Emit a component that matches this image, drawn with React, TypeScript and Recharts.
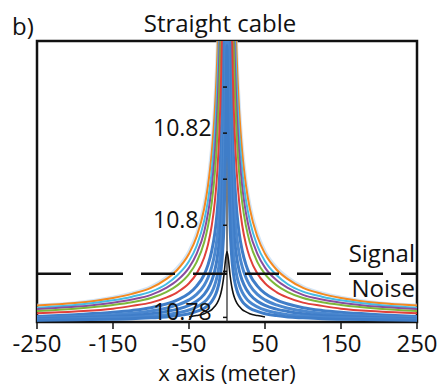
import React from 'react';
import { LineChart, Line, XAxis, YAxis, ReferenceLine, ReferenceArea } from 'recharts';

// distance from the cable (m); profiles are symmetric about x = 0
const offsets = [0, 2, 4, 6, 8, 10, 13, 16, 20, 25, 30, 40, 50, 65, 80, 100, 125, 150, 200, 250];

const haze = [11.2923, 11.087, 10.9592, 10.9035, 10.8736, 10.8551, 10.8378, 10.8269, 10.8174, 10.8098, 10.8046, 10.7983, 10.7944, 10.7909, 10.7887, 10.7867, 10.7853, 10.7844, 10.7832, 10.7827];
const orange = [11.2723, 11.075, 10.9522, 10.8987, 10.8699, 10.8522, 10.8355, 10.825, 10.8159, 10.8086, 10.8036, 10.7975, 10.7938, 10.7904, 10.7883, 10.7864, 10.7851, 10.7842, 10.7831, 10.7826];
const cyan = [11.219, 11.043, 10.9335, 10.8857, 10.8601, 10.8443, 10.8294, 10.8201, 10.8119, 10.8054, 10.801, 10.7955, 10.7922, 10.7892, 10.7872, 10.7856, 10.7845, 10.7837, 10.7827, 10.7821];
const purple = [11.1723, 11.015, 10.9171, 10.8744, 10.8515, 10.8374, 10.8241, 10.8157, 10.8084, 10.8026, 10.7986, 10.7938, 10.7908, 10.7881, 10.7864, 10.7849, 10.7839, 10.7832, 10.7823, 10.7818];
const green = [11.1257, 10.987, 10.9007, 10.8631, 10.8429, 10.8304, 10.8187, 10.8113, 10.8049, 10.7998, 10.7963, 10.792, 10.7894, 10.787, 10.7855, 10.7842, 10.7833, 10.7827, 10.7819, 10.7814];
const red = [11.059, 10.947, 10.8773, 10.8469, 10.8306, 10.8205, 10.8111, 10.8051, 10.8, 10.7958, 10.793, 10.7895, 10.7874, 10.7855, 10.7843, 10.7832, 10.7825, 10.7819, 10.7813, 10.7809];
const blue1 = [10.9857, 10.903, 10.8516, 10.8291, 10.8171, 10.8097, 10.8027, 10.7983, 10.7945, 10.7914, 10.7893, 10.7868, 10.7852, 10.7838, 10.7829, 10.7821, 10.7815, 10.7811, 10.7806, 10.7802];
const blue2 = [10.939, 10.875, 10.8352, 10.8178, 10.8085, 10.8027, 10.7973, 10.7939, 10.791, 10.7886, 10.787, 10.785, 10.7838, 10.7827, 10.782, 10.7814, 10.7809, 10.7806, 10.7802, 10.78];
const blue3 = [10.899, 10.851, 10.8211, 10.8081, 10.8011, 10.7968, 10.7928, 10.7902, 10.788, 10.7862, 10.785, 10.7835, 10.7826, 10.7818, 10.7813, 10.7808, 10.7804, 10.7802, 10.7799, 10.7797];
const blue4 = [10.8657, 10.831, 10.8094, 10.8, 10.795, 10.7919, 10.7889, 10.7871, 10.7855, 10.7842, 10.7833, 10.7823, 10.7816, 10.781, 10.7806, 10.7803, 10.78, 10.7799, 10.7797, 10.7795];
const blue5 = [10.839, 10.815, 10.8001, 10.7936, 10.7901, 10.7879, 10.7859, 10.7846, 10.7835, 10.7826, 10.782, 10.7813, 10.7808, 10.7804, 10.7801, 10.7799, 10.7797, 10.7796, 10.7795, 10.7794];
// narrow response, only out to 50 m
const narrow = [10.7943, 10.7924, 10.7892, 10.7869, 10.7853, 10.7842, 10.7831, 10.7824, 10.7817, 10.7812, 10.7808, 10.7804, 10.7801];

const xTicks = [-250, -150, -50, 50, 150, 250];
const yTicks = [10.78, 10.79, 10.8, 10.81, 10.82, 10.83];
const noiseLevel = 10.7895;

const series: Record<string, number[]> = { haze, orange, cyan, purple, green, red, blue1, blue2, blue3, blue4, blue5, narrow };

const xs = [...offsets.slice(1).reverse().map((d) => -d), ...offsets];
const rows = xs.map((x) => {
  const i = offsets.indexOf(Math.abs(x));
  const row: Record<string, number | null> = { x };
  Object.keys(series).forEach((k) => {
    const v = series[k][i];
    row[k] = v === undefined ? null : v;
  });
  return row;
});

const FONT = '"Open Sans", sans-serif';
const LEFT = 36;
const AXIS_W = 1;
const PLOT_W = 380;
const CENTER_X = LEFT + AXIS_W + PLOT_W / 2;

const CenterTick = (props: any) => {
  const { y, payload } = props;
  const hundredths = Math.round(payload.value * 100);
  const label = hundredths % 2 === 0 ? String(Number(payload.value.toFixed(2))) : '';
  return (
    <g>
      <line x1={CENTER_X - 4} x2={CENTER_X} y1={y} y2={y} stroke="#111" strokeWidth={1.5} />
      {label && (
        <text x={CENTER_X - 74} y={y - 6} dominantBaseline="central" textAnchor="start" fontSize={23} fontFamily={FONT} fill="#111">
          {label}
        </text>
      )}
    </g>
  );
};

// blue band first, the coloured curves over it, the narrow black one last
const lineStyle = [
  { key: 'haze', color: '#b5d3f0', width: 3, opacity: 0.6 },
  { key: 'blue1', color: '#3f7dc8', width: 3, opacity: 1 },
  { key: 'blue2', color: '#4a87cf', width: 3, opacity: 1 },
  { key: 'blue3', color: '#3f7dc8', width: 3, opacity: 1 },
  { key: 'blue4', color: '#4a87cf', width: 3, opacity: 1 },
  { key: 'blue5', color: '#3f7dc8', width: 3, opacity: 1 },
  { key: 'orange', color: '#f5891f', width: 2, opacity: 1 },
  { key: 'cyan', color: '#45bce5', width: 2, opacity: 1 },
  { key: 'purple', color: '#8a4c9e', width: 2, opacity: 1 },
  { key: 'green', color: '#7db83a', width: 2, opacity: 1 },
  { key: 'red', color: '#e0403a', width: 2, opacity: 1 },
  { key: 'narrow', color: '#111111', width: 1.6, opacity: 1 },
];

const textStyle: React.CSSProperties = {
  position: 'absolute',
  fontFamily: FONT,
  fontSize: 24,
  lineHeight: '24px',
  color: '#111',
  whiteSpace: 'nowrap',
};

export default function App() {
  return (
    <div style={{ position: 'absolute', left: 0, top: 0, width: 440, height: 387, background: '#fff' }}>
      <LineChart width={440} height={387} data={rows} margin={{ top: 41, right: 23, bottom: 0, left: LEFT }}>
        <XAxis
          dataKey="x"
          type="number"
          domain={[-250, 250]}
          ticks={xTicks}
          allowDataOverflow
          axisLine={false}
          tickLine={{ stroke: '#111', strokeWidth: 1.5 }}
          tickSize={7}
          tickMargin={6}
          height={65}
          tick={{ fontSize: 24, fontFamily: FONT, fill: '#111' }}
          label={{ value: 'x axis (meter)', position: 'insideBottom', offset: 6, fontSize: 22, fontFamily: FONT, fill: '#111' }}
        />
        <YAxis
          type="number"
          domain={[10.779, 10.84]}
          ticks={yTicks}
          interval={0}
          allowDataOverflow
          width={AXIS_W}
          axisLine={false}
          tickLine={false}
          tick={(p: any) => <CenterTick {...p} />}
        />
        <ReferenceLine x={0} stroke="#222" strokeWidth={1.2} />
        {lineStyle.map((s) => (
          <Line
            key={s.key}
            type="monotone"
            dataKey={s.key}
            stroke={s.color}
            strokeWidth={s.width}
            strokeOpacity={s.opacity}
            dot={false}
            connectNulls={false}
            isAnimationActive={false}
          />
        ))}
        <ReferenceLine y={noiseLevel} stroke="#111" strokeWidth={2.5} strokeDasharray="34 18" />
        <ReferenceArea x1={-250} x2={250} y1={10.779} y2={10.84} fill="none" stroke="#111" strokeWidth={2.5} />
      </LineChart>
      <div style={{ ...textStyle, left: 12, top: 14 }}>b)</div>
      <div style={{ ...textStyle, left: 0, width: 440, textAlign: 'center', top: 11 }}>Straight cable</div>
      <div style={{ ...textStyle, right: 25, top: 241 }}>Signal</div>
      <div style={{ ...textStyle, right: 25, top: 276 }}>Noise</div>
    </div>
  );
}
